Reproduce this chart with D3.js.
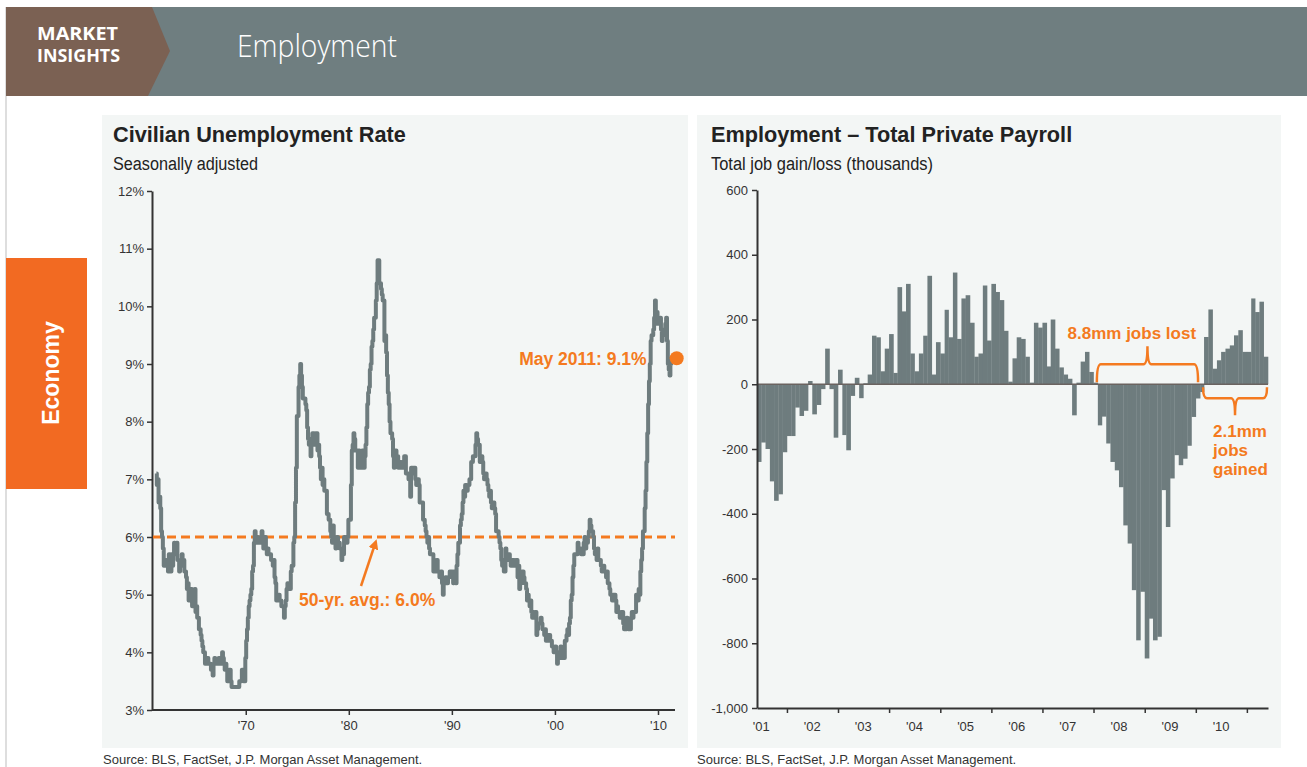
<!DOCTYPE html>
<html>
<head>
<meta charset="utf-8">
<script src="https://cdn.jsdelivr.net/npm/d3@7"></script>
<style>
  body { margin: 0; background: #fff; overflow: hidden; }
  svg { display: block; }
</style>
</head>
<body>
<script>
// ---- data ----
// civilian unemployment rate, monthly, seasonally adjusted, from May 1961
const unempStart = new Date(1961, 4, 1);
const unempRate = [
  7.1, 6.9, 7.0, 6.6, 6.7, 6.5, 6.1, 6.0,
  5.8, 5.5, 5.6, 5.6, 5.5, 5.5, 5.4, 5.7, 5.6, 5.4, 5.7, 5.5,
  5.7, 5.9, 5.7, 5.7, 5.9, 5.6, 5.6, 5.4, 5.5, 5.5, 5.7, 5.5,
  5.6, 5.4, 5.4, 5.3, 5.1, 5.2, 4.9, 5.0, 5.1, 5.1, 4.8, 5.0,
  4.9, 5.1, 4.7, 4.8, 4.6, 4.6, 4.4, 4.4, 4.3, 4.2, 4.1, 4.0,
  4.0, 3.8, 3.8, 3.8, 3.9, 3.8, 3.8, 3.8, 3.7, 3.7, 3.6, 3.8,
  3.9, 3.8, 3.8, 3.8, 3.8, 3.9, 3.8, 3.8, 3.8, 4.0, 3.9, 3.8,
  3.7, 3.8, 3.7, 3.5, 3.5, 3.7, 3.7, 3.5, 3.4, 3.4, 3.4, 3.4,
  3.4, 3.4, 3.4, 3.4, 3.4, 3.5, 3.5, 3.5, 3.7, 3.7, 3.5, 3.5,
  3.9, 4.2, 4.4, 4.6, 4.8, 4.9, 5.0, 5.1, 5.4, 5.5, 5.9, 6.1,
  5.9, 5.9, 6.0, 5.9, 5.9, 5.9, 6.0, 6.1, 6.0, 5.8, 6.0, 6.0,
  5.8, 5.7, 5.8, 5.7, 5.7, 5.7, 5.6, 5.6, 5.5, 5.6, 5.3, 5.2,
  4.9, 5.0, 4.9, 5.0, 4.9, 4.9, 4.8, 4.8, 4.8, 4.6, 4.8, 4.9,
  5.1, 5.2, 5.1, 5.1, 5.1, 5.4, 5.5, 5.5, 5.9, 6.0, 6.6, 7.2,
  8.1, 8.1, 8.6, 8.8, 9.0, 8.8, 8.6, 8.4, 8.4, 8.4, 8.3, 8.2,
  7.9, 7.7, 7.6, 7.7, 7.4, 7.6, 7.8, 7.8, 7.6, 7.7, 7.8, 7.8,
  7.5, 7.6, 7.4, 7.2, 7.0, 7.2, 6.9, 7.0, 6.8, 6.8, 6.8, 6.4,
  6.4, 6.3, 6.3, 6.1, 6.0, 5.9, 6.2, 5.9, 6.0, 5.8, 5.9, 6.0,
  5.9, 5.9, 5.8, 5.8, 5.6, 5.7, 5.7, 6.0, 5.9, 6.0, 5.9, 6.0,
  6.3, 6.3, 6.3, 6.9, 7.5, 7.6, 7.8, 7.7, 7.5, 7.5, 7.5, 7.2,
  7.5, 7.4, 7.4, 7.2, 7.5, 7.5, 7.2, 7.4, 7.6, 7.9, 8.3, 8.5,
  8.6, 8.9, 9.0, 9.3, 9.4, 9.6, 9.8, 9.8, 10.1, 10.4, 10.8, 10.8,
  10.4, 10.4, 10.3, 10.2, 10.1, 10.1, 9.4, 9.5, 9.2, 8.8, 8.5, 8.3,
  8.0, 7.8, 7.8, 7.7, 7.4, 7.2, 7.5, 7.5, 7.3, 7.4, 7.2, 7.3,
  7.3, 7.2, 7.2, 7.3, 7.2, 7.4, 7.4, 7.1, 7.1, 7.1, 7.0, 7.0,
  6.7, 7.2, 7.2, 7.1, 7.2, 7.2, 7.0, 6.9, 7.0, 7.0, 6.9, 6.6,
  6.6, 6.6, 6.6, 6.3, 6.3, 6.2, 6.1, 6.0, 5.9, 6.0, 5.8, 5.7,
  5.7, 5.7, 5.7, 5.4, 5.6, 5.4, 5.4, 5.6, 5.4, 5.4, 5.3, 5.3,
  5.4, 5.2, 5.0, 5.2, 5.2, 5.3, 5.2, 5.2, 5.3, 5.3, 5.4, 5.4,
  5.4, 5.3, 5.2, 5.4, 5.4, 5.2, 5.5, 5.7, 5.9, 5.9, 6.2, 6.3,
  6.4, 6.6, 6.8, 6.7, 6.9, 6.9, 6.8, 6.9, 6.9, 7.0, 7.0, 7.3,
  7.3, 7.4, 7.4, 7.4, 7.6, 7.8, 7.7, 7.6, 7.6, 7.3, 7.4, 7.4,
  7.3, 7.1, 7.0, 7.1, 7.1, 7.0, 6.9, 6.8, 6.7, 6.8, 6.6, 6.5,
  6.6, 6.6, 6.5, 6.4, 6.1, 6.1, 6.1, 6.0, 5.9, 5.8, 5.6, 5.5,
  5.6, 5.4, 5.4, 5.8, 5.6, 5.6, 5.7, 5.7, 5.6, 5.5, 5.6, 5.6,
  5.6, 5.5, 5.5, 5.6, 5.6, 5.3, 5.5, 5.1, 5.2, 5.2, 5.4, 5.4,
  5.3, 5.2, 5.2, 5.1, 4.9, 5.0, 4.9, 4.8, 4.9, 4.7, 4.6, 4.7,
  4.6, 4.6, 4.7, 4.3, 4.4, 4.5, 4.5, 4.5, 4.6, 4.5, 4.4, 4.4,
  4.3, 4.4, 4.2, 4.3, 4.2, 4.3, 4.3, 4.2, 4.2, 4.1, 4.1, 4.0,
  4.0, 4.1, 4.0, 3.8, 4.0, 4.0, 4.0, 4.1, 3.9, 3.9, 3.9, 3.9,
  4.2, 4.2, 4.3, 4.4, 4.3, 4.5, 4.6, 4.9, 5.0, 5.3, 5.5, 5.7,
  5.7, 5.7, 5.7, 5.9, 5.8, 5.8, 5.8, 5.7, 5.7, 5.7, 5.9, 6.0,
  5.8, 5.9, 5.9, 6.0, 6.1, 6.3, 6.2, 6.1, 6.1, 6.0, 5.8, 5.7,
  5.7, 5.6, 5.8, 5.6, 5.6, 5.6, 5.5, 5.4, 5.4, 5.5, 5.4, 5.4,
  5.3, 5.4, 5.2, 5.2, 5.1, 5.0, 5.0, 4.9, 5.0, 5.0, 5.0, 4.9,
  4.7, 4.8, 4.7, 4.7, 4.6, 4.6, 4.7, 4.7, 4.5, 4.4, 4.5, 4.4,
  4.6, 4.5, 4.4, 4.5, 4.4, 4.6, 4.7, 4.6, 4.7, 4.7, 4.7, 5.0,
  5.0, 4.9, 5.1, 5.0, 5.4, 5.6, 5.8, 6.1, 6.1, 6.5, 6.8, 7.3,
  7.8, 8.3, 8.7, 9.0, 9.4, 9.5, 9.5, 9.6, 9.8, 10.1, 9.9, 9.9,
  9.7, 9.7, 9.7, 9.8, 9.6, 9.4, 9.5, 9.6, 9.6, 9.7, 9.8, 9.4,
  9.0, 8.9, 8.8, 9.0, 9.1
];
const unempAvg = 6.0;
const unempTicks = [3, 4, 5, 6, 7, 8, 9, 10, 11, 12];
const decadeTicks = [1970, 1980, 1990, 2000, 2010];

// private payroll change, thousands, monthly from June 2001
const payrollStart = new Date(2001, 5, 1);
const payrollChange = [
  -240, -180, -200, -300, -360, -340, -210,
  -160, -160, -72, -98, -82, 10, -93, -64, -15, 110, -15, -165,
  45, -157, -204, -36, 20, -43, 3, 30, 150, 145, 40, 110,
  155, 35, 300, 225, 310, 95, 40, 95, 150, 335, 30, 130,
  95, 230, 145, 345, 140, 265, 275, 190, 85, 95, 305, 135,
  310, 285, 260, 165, 8, 80, 145, 140, 85, 5, 190, 175,
  190, 55, 200, 110, 52, 30, 17, -96, 5, 70, 100, 38,
  5, -127, -100, -183, -240, -266, -318, -436, -492, -636, -791, -641,
  -847, -724, -791, -780, -327, -441, -291, -219, -250, -230, -190, -101,
  -44, -24, 146, 231, 48, 74, 100, 110, 120, 151, 167, 100,
  100, 265, 223, 255, 85
];
const payrollTicks = [600, 400, 200, 0, -200, -400, -600, -800, -1000];
const payrollYears = [2001, 2002, 2003, 2004, 2005, 2006, 2007, 2008, 2009, 2010];

const W = 1307, H = 767;
const gray = "#6e7c7e";
const orange = "#f47a20";
const ink = "#333";
const sans = "'Liberation Sans', Arial, sans-serif";

const svg = d3.select("body").append("svg")
  .attr("width", W)
  .attr("height", H);

// ---- page frame ----
svg.append("line")
  .attr("x1", 6).attr("x2", 6).attr("y1", 7).attr("y2", H)
  .attr("stroke", "#bdbdbd").attr("stroke-width", 1);

svg.append("rect")
  .attr("x", 6).attr("y", 7).attr("width", W - 6).attr("height", 89)
  .attr("fill", "#6f7e80");
svg.append("polygon")
  .attr("points", "6,7 152,7 170,51 148,96 6,96")
  .attr("fill", "#7b6153");
[["MARKET", 40, 81], ["INSIGHTS", 62, 83]].forEach(t => {
  svg.append("text")
    .attr("x", 37).attr("y", t[1])
    .attr("fill", "#fff").attr("font-family", "'Open Sans', sans-serif")
    .attr("font-weight", 700).attr("font-size", 17)
    .attr("textLength", t[2]).attr("lengthAdjust", "spacingAndGlyphs")
    .text(t[0]);
});
svg.append("text")
  .attr("x", 237).attr("y", 57)
  .attr("fill", "#fff").attr("font-family", "'Open Sans', sans-serif")
  .attr("font-weight", 300).attr("font-size", 31)
  .attr("textLength", 160).attr("lengthAdjust", "spacingAndGlyphs")
  .text("Employment");

// side tab
svg.append("rect")
  .attr("x", 6).attr("y", 258).attr("width", 81).attr("height", 231)
  .attr("fill", "#f26a22");
svg.append("text")
  .attr("transform", "translate(59,373) rotate(-90)")
  .attr("text-anchor", "middle")
  .attr("fill", "#fff").attr("font-family", sans)
  .attr("font-weight", 700).attr("font-size", 23)
  .text("Economy");

// panels
[[102, 586], [697, 584]].forEach(p => {
  svg.append("rect")
    .attr("x", p[0]).attr("y", 115).attr("width", p[1]).attr("height", 633)
    .attr("fill", "#f3f6f5");
});

function titles(x, t, s, sw) {
  svg.append("text").attr("x", x).attr("y", 142)
    .attr("font-family", sans).attr("font-weight", 700).attr("font-size", 21.7)
    .attr("fill", "#222").text(t);
  svg.append("text").attr("x", x).attr("y", 170)
    .attr("font-family", sans).attr("font-size", 18)
    .attr("textLength", sw).attr("lengthAdjust", "spacingAndGlyphs")
    .attr("fill", "#222").text(s);
}
titles(113, "Civilian Unemployment Rate", "Seasonally adjusted", 145);
titles(711, "Employment \u2013 Total Private Payroll", "Total job gain/loss (thousands)", 222);

function source(x) {
  svg.append("text").attr("x", x).attr("y", 764)
    .attr("font-family", sans).attr("font-size", 13)
    .attr("fill", "#333").text("Source: BLS, FactSet, J.P. Morgan Asset Management.");
}
source(103);
source(697);

function styleAxis(g) {
  g.select(".domain").attr("stroke", ink).attr("stroke-width", 2);
  g.selectAll(".tick line").attr("stroke", ink).attr("stroke-width", 1.5);
  g.selectAll(".tick text").attr("fill", "#333")
    .attr("font-family", sans).attr("font-size", 13);
}

// ---- left chart: unemployment rate ----
const unemp = unempRate.map((v, i) => ({ date: d3.timeMonth.offset(unempStart, i), v }));

const xL = d3.scaleTime()
  .domain([new Date(1961, 0, 1), new Date(2011, 9, 1)])
  .range([153, 676]);
const yL = d3.scaleLinear().domain([3, 12]).range([710, 191]);

const gyL = svg.append("g").attr("transform", "translate(152,0)")
  .call(d3.axisLeft(yL).tickValues(unempTicks).tickSize(5).tickSizeOuter(0)
    .tickPadding(3).tickFormat(d => d + "%"));
styleAxis(gyL);

const gxL = svg.append("g").attr("transform", "translate(0,710)")
  .call(d3.axisBottom(xL).tickValues(decadeTicks.map(y => new Date(y, 0, 1)))
    .tickSize(5).tickSizeOuter(0).tickPadding(6)
    .tickFormat(d => "'" + d3.timeFormat("%y")(d)));
gxL.select(".domain").attr("d", "M152,0H675");
styleAxis(gxL);

// 50-yr average line
svg.append("line")
  .attr("x1", 153).attr("x2", 675)
  .attr("y1", yL(unempAvg)).attr("y2", yL(unempAvg))
  .attr("stroke", orange).attr("stroke-width", 3)
  .attr("stroke-dasharray", "9,5");

svg.append("path")
  .datum(unemp)
  .attr("fill", "none")
  .attr("stroke", gray)
  .attr("stroke-width", 4)
  .attr("stroke-linejoin", "round")
  .attr("d", d3.line().x(d => xL(d.date)).y(d => yL(d.v)).curve(d3.curveStep));

const lastU = unemp[unemp.length - 1];
const dotX = xL(lastU.date) + 5;
svg.append("circle")
  .attr("cx", dotX).attr("cy", yL(lastU.v))
  .attr("r", 7).attr("fill", orange);
svg.append("text")
  .attr("x", dotX - 30).attr("y", yL(lastU.v) + 7)
  .attr("text-anchor", "end")
  .attr("font-family", sans).attr("font-weight", 700).attr("font-size", 17.5)
  .attr("fill", orange)
  .text("May 2011: " + lastU.v.toFixed(1) + "%");

// avg annotation + arrow
svg.append("defs").append("marker")
  .attr("id", "arr").attr("viewBox", "0 0 10 10")
  .attr("refX", 5).attr("refY", 5)
  .attr("markerWidth", 4).attr("markerHeight", 4)
  .attr("orient", "auto")
  .append("path").attr("d", "M0,0L10,5L0,10z").attr("fill", orange);
svg.append("line")
  .attr("x1", 361).attr("y1", 586)
  .attr("x2", 375).attr("y2", yL(unempAvg) + 7)
  .attr("stroke", orange).attr("stroke-width", 2.5)
  .attr("marker-end", "url(#arr)");
svg.append("text")
  .attr("x", 299).attr("y", 606)
  .attr("font-family", sans).attr("font-weight", 700).attr("font-size", 17.5)
  .attr("fill", orange)
  .text("50-yr. avg.: " + unempAvg.toFixed(1) + "%");

// ---- right chart: private payroll ----
const payroll = payrollChange.map((v, i) => ({ date: d3.timeMonth.offset(payrollStart, i), v }));
const payrollEnd = d3.timeMonth.offset(payrollStart, payrollChange.length);

const xR = d3.scaleTime().domain([payrollStart, payrollEnd]).range([757, 1268]);
const yR = d3.scaleLinear().domain([-1000, 600]).range([708, 190]);

svg.append("g")
  .selectAll("rect")
  .data(payroll)
  .enter()
  .append("rect")
  .attr("x", d => xR(d.date))
  .attr("width", d => xR(d3.timeMonth.offset(d.date, 1)) - xR(d.date) + 0.3)
  .attr("y", d => yR(Math.max(0, d.v)))
  .attr("height", d => Math.abs(yR(d.v) - yR(0)))
  .attr("fill", gray);

svg.append("line")
  .attr("x1", 757).attr("x2", 1268)
  .attr("y1", yR(0)).attr("y2", yR(0))
  .attr("stroke", "#6a6360").attr("stroke-width", 1.5);

const gyR = svg.append("g").attr("transform", "translate(757,0)")
  .call(d3.axisLeft(yR).tickValues(payrollTicks).tickSize(5).tickSizeOuter(0)
    .tickPadding(4).tickFormat(d => d3.format(",")(d).replace("\u2212", "-")));
styleAxis(gyR);

const gxR = svg.append("g").attr("transform", "translate(0,708)")
  .call(d3.axisBottom(xR)
    .tickValues(payrollYears.map(y => new Date(y + 1, 0, 1)))
    .tickSize(5).tickSizeOuter(0).tickFormat(""));
styleAxis(gxR);

svg.append("g")
  .selectAll("text")
  .data(payrollYears)
  .enter()
  .append("text")
  .attr("x", d => xR(new Date(d, 6, 1)))
  .attr("y", 731)
  .attr("text-anchor", "middle")
  .attr("font-family", sans).attr("font-size", 13).attr("fill", "#333")
  .text(d => "'" + String(d).slice(2));

// braces
function brace(x0, x1, yBase, yBar, yTip) {
  const xm = (x0 + x1) / 2;
  return `M${x0},${yBase} Q${x0},${yBar} ${x0 + 4},${yBar} L${xm - 4},${yBar} ` +
    `Q${xm},${yBar} ${xm},${yTip} Q${xm},${yBar} ${xm + 4},${yBar} ` +
    `L${x1 - 4},${yBar} Q${x1},${yBar} ${x1},${yBase}`;
}
const lostFrom = payroll[80].date, lostTo = payroll[105].date;
const gainFrom = payroll[105].date, gainTo = payrollEnd;

svg.append("path")
  .attr("d", brace(xR(lostFrom) - 1, xR(lostTo) - 6, yR(0) - 2, yR(0) - 20, yR(0) - 38))
  .attr("fill", "none").attr("stroke", orange).attr("stroke-width", 2.5);
svg.append("text")
  .attr("x", xR(lostTo) - 8).attr("y", yR(0) - 45)
  .attr("text-anchor", "end")
  .attr("font-family", sans).attr("font-weight", 700).attr("font-size", 17)
  .attr("fill", orange).text("8.8mm jobs lost");

svg.append("path")
  .attr("d", brace(xR(gainFrom) - 1, xR(gainTo) - 1, yR(0) + 3, yR(0) + 14, yR(0) + 31))
  .attr("fill", "none").attr("stroke", orange).attr("stroke-width", 2.5);
["2.1mm", "jobs", "gained"].forEach((t, i) => {
  svg.append("text")
    .attr("x", xR(gainFrom) + 9).attr("y", yR(0) + 53 + i * 19)
    .attr("font-family", sans).attr("font-weight", 700).attr("font-size", 17)
    .attr("fill", orange).text(t);
});
</script>
</body>
</html>
